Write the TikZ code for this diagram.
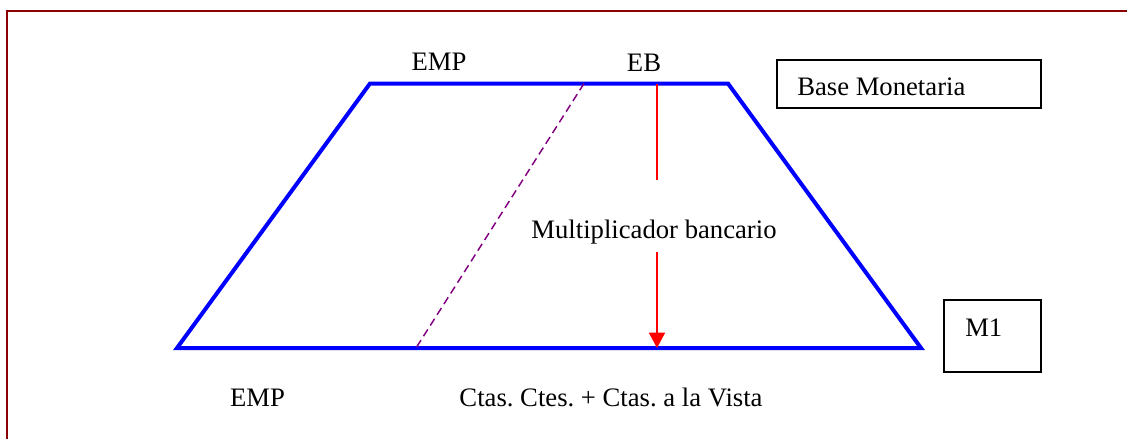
\documentclass[tikz,border=0pt]{standalone}
\usepackage{fontspec}
\setmainfont{Liberation Serif}
\usetikzlibrary{arrows.meta}
\definecolor{framered}{HTML}{8B0000}
\definecolor{dashpurple}{HTML}{800080}
\frenchspacing
\begin{document}
\begin{tikzpicture}[x=0.75pt,y=-0.75pt,
  funnel/.style={draw=blue,line width=3pt,line join=miter},
  divider/.style={draw=dashpurple,line width=1.1pt,dash pattern=on 6pt off 3.5pt},
  redline/.style={draw=red,line width=1.2pt},
  labelbox/.style={draw=black,line width=1.3pt,rectangle,inner sep=0pt},
  lbl/.style={font=\fontsize{20pt}{24pt}\selectfont,inner sep=0pt},
]
\useasboundingbox (0,0) rectangle (1127,439);
% outer frame (partial)
\draw[framered,line width=1.5pt] (7,439) -- (7,11) -- (1127,11);
% trapezoid
\coordinate (tl) at (370,83.5);
\coordinate (tr) at (728,83.5);
\coordinate (br) at (921,348);
\coordinate (bl) at (177,348);
\draw[funnel] (tl) -- (tr) -- (br) -- (bl) -- cycle;
% dashed divider
\coordinate (dtop) at (584,83.5);
\coordinate (dbot) at (416,348);
\draw[divider] (dtop) -- (dbot);
% multiplier arrow
\coordinate (rtop) at (657,83.5);
\coordinate (rmid1) at (657,180);
\coordinate (rmid2) at (657,252);
\coordinate (rbot) at (657,348);
\draw[redline] (rtop) -- (rmid1);
\draw[redline,-{Triangle[width=12pt,length=11.5pt]}] (rmid2) -- (rbot);
% labels
\node[lbl,anchor=base] (empTop) at (439,70.7) {EMP};
\node[lbl,anchor=base] (eb) at (644,71) {EB};
\node[lbl,anchor=base] (mult) at (654,238) {Multiplicador bancario};
\node[lbl,anchor=base] (empBot) at (257.5,406) {EMP};
\node[lbl,anchor=base] (ctas) at (611,406) {Ctas. Ctes. + Ctas. a la Vista};
% boxes
\node[labelbox,minimum width=198pt,minimum height=36pt] (bmbox) at (909,84) {};
\node[lbl,anchor=base west] (bm) at (797,95) {Base Monetaria};
\node[labelbox,minimum width=72.75pt,minimum height=54pt] (m1box) at (992.5,336) {};
\node[lbl,anchor=base west] (m1) at (965,336) {M1};
\end{tikzpicture}
\end{document}
